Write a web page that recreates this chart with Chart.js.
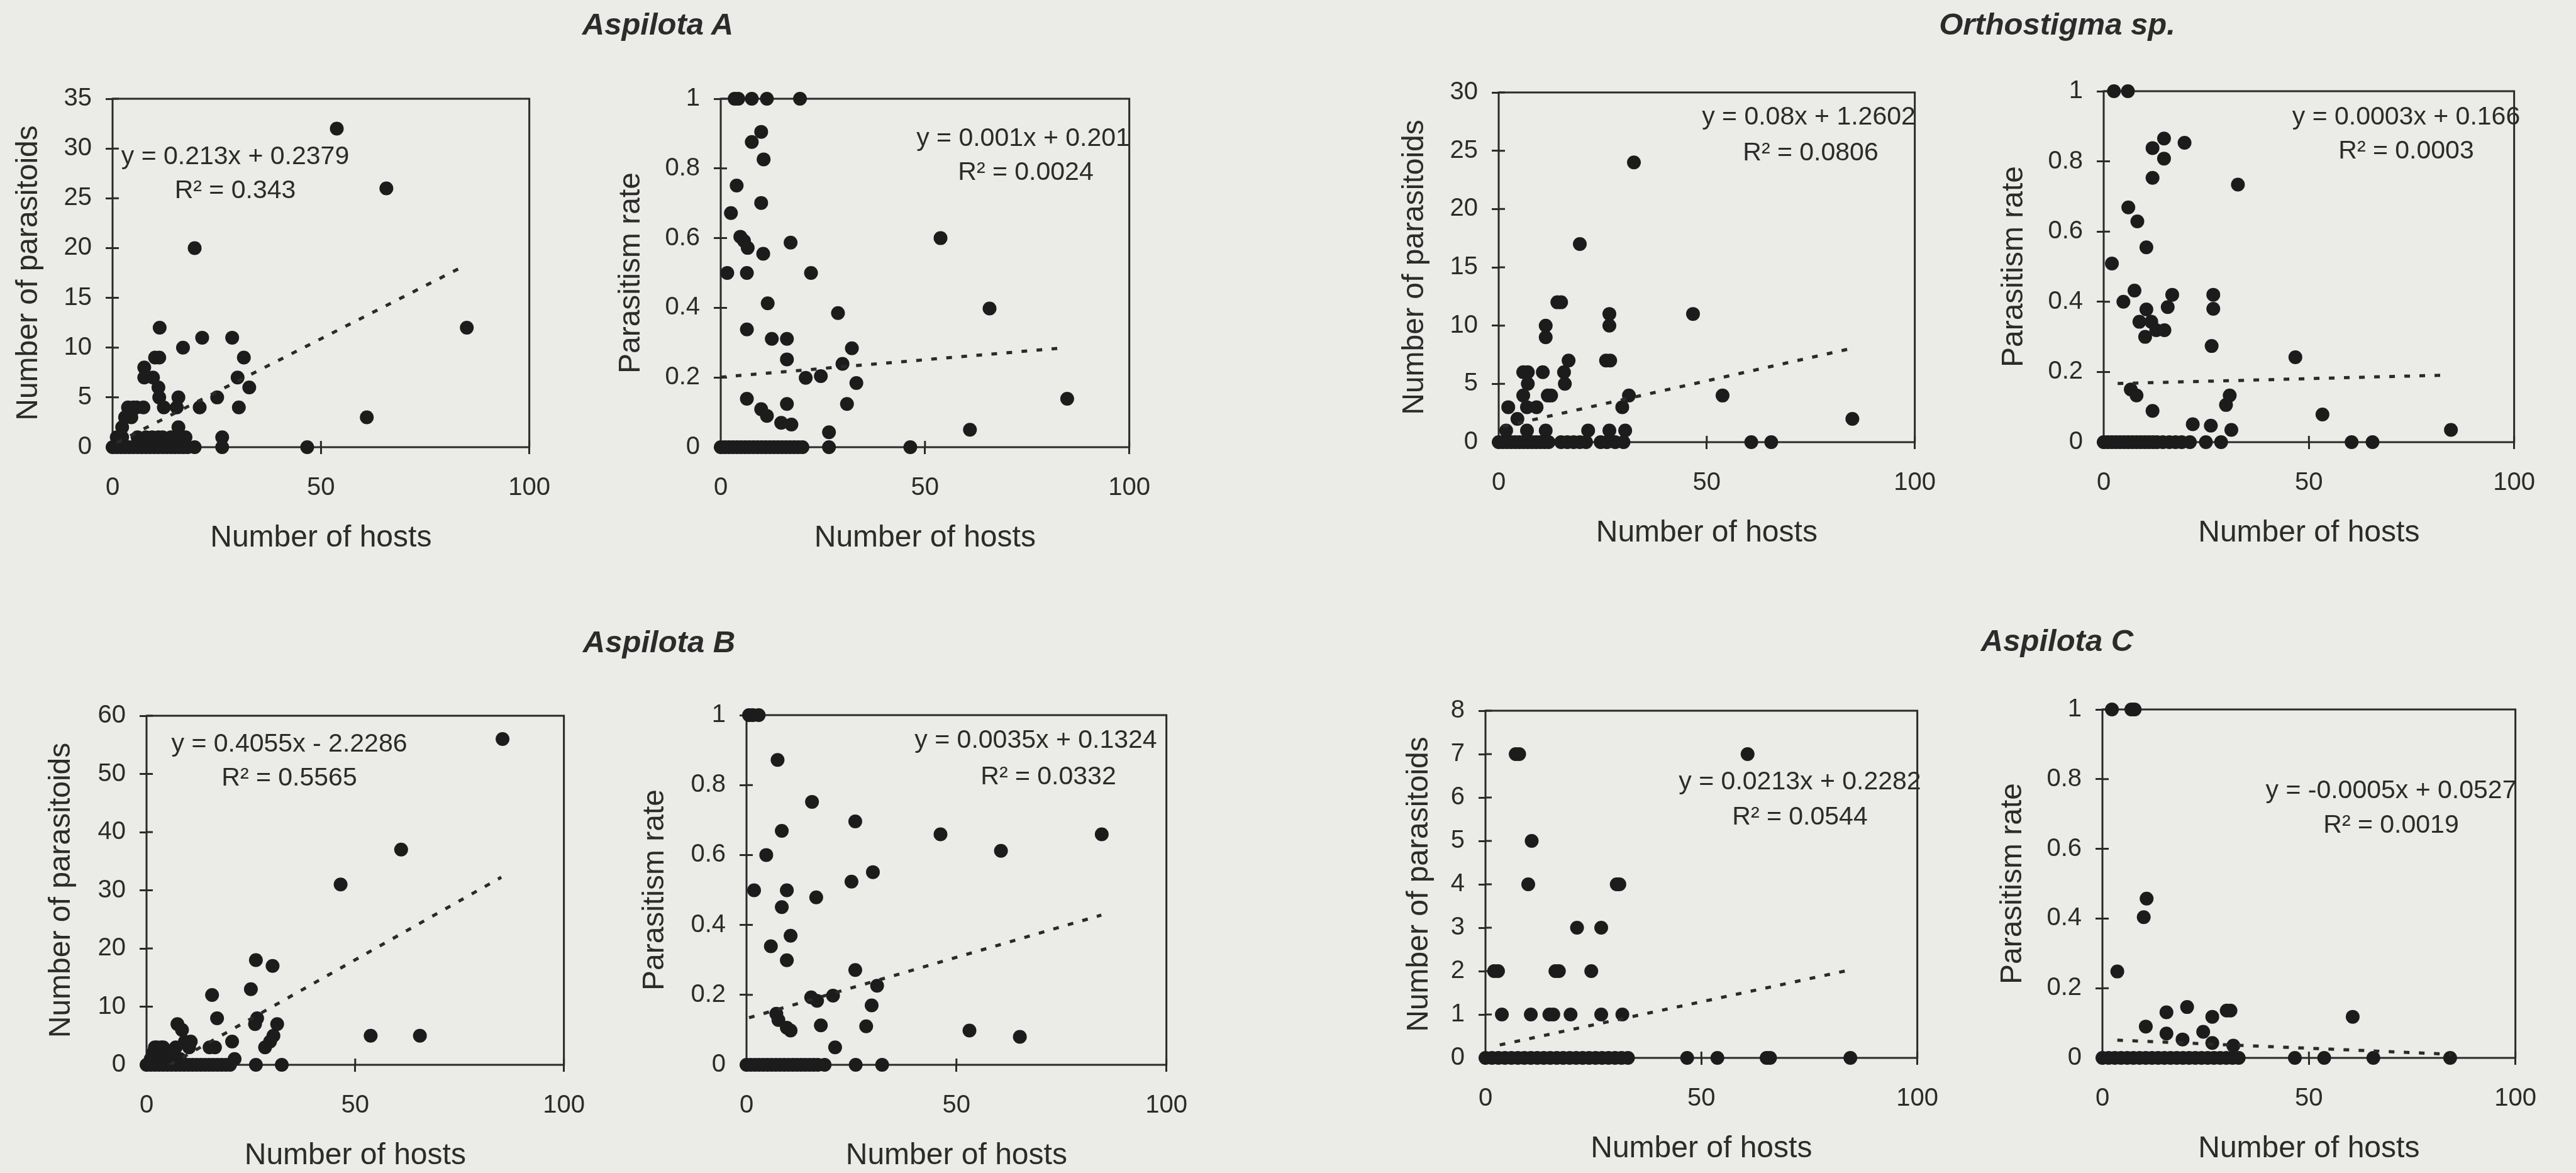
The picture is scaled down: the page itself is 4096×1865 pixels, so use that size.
<!DOCTYPE html>
<html>
<head>
<meta charset="utf-8">
<script src="https://cdn.jsdelivr.net/npm/chart.js@4.4.1/dist/chart.umd.min.js"></script>
<style>
  html, body { margin: 0; padding: 0; background: #ebebe7; }
  #page { position: relative; width: 4096px; height: 1865px; overflow: hidden;
          font-family: "Liberation Sans", Arial, sans-serif; color: #2b2b2b; }
  .panel { position: absolute; }
  .ttl { position: absolute; font-weight: bold; font-style: italic; font-size: 49px; line-height: 1;
         transform: translate(-50%, -50%); white-space: nowrap; }
  .eq { position: absolute; font-size: 41px; line-height: 1; transform: translate(-50%, -50%); white-space: nowrap; }
</style>
</head>
<body>
<div id="page"></div>
<script>
// ---- data ----
const xTicks = [0, 50, 100];

// Aspilota A
const aNumX = [53.8, 65.7, 19.7, 85, 61, 46.7, 11.3, 16.9, 21.5, 28.7, 31.5, 10.2, 11.2, 7.6, 7.6, 9.7, 11, 11.2, 12.3, 15.8,
  15.4, 20.9, 25.1, 30, 32.8, 30.3, 3.7, 4.5, 5.8, 7.4, 2.3, 15.8, 3, 5, 1, 2.3, 6, 8, 9.5, 11, 12, 14, 16, 17.5, 26.3, 1.5,
  0, 1, 2, 3, 4, 5, 6, 7, 8, 9, 10, 11, 12, 13, 14, 15, 16, 17, 18, 19.7, 26.3];
const aNumY = [32, 26, 20, 12, 3, 0, 12, 10, 11, 11, 9, 9, 9, 8, 7, 7, 6, 5, 4, 5,
  4, 4, 5, 7, 6, 4, 4, 3, 4, 4, 2, 2, 3, 4, 1, 1, 1, 1, 1, 1, 1, 1, 1, 1, 1, 0.5,
  0, 0, 0, 0, 0, 0, 0, 0, 0, 0, 0, 0, 0, 0, 0, 0, 0, 0, 0, 0, 0];
const aRateX = [3.4, 4.3, 7.6, 11.3, 19.4, 9.9, 7.6, 10.5, 3.9, 9.9, 2.5, 4.8, 5.7, 6.6, 17.1, 53.8, 10.4, 1.6, 6.4, 22.1,
  11.5, 65.8, 28.7, 6.4, 12.5, 16.2, 32.1, 16.2, 29.8, 20.8, 24.5, 33.2, 6.4, 16.2, 30.9, 84.8, 9.9, 11.3, 14.8, 17.3,
  61, 26.5, 26.5, 46.4, 0, 1, 2, 3, 4, 5, 6, 7, 8, 9, 10, 11, 12, 13, 14, 15, 16, 17, 18, 19, 20];
const aRateY = [1, 1, 1, 1, 1, 0.905, 0.876, 0.826, 0.751, 0.701, 0.672, 0.604, 0.592, 0.572, 0.587, 0.6, 0.555, 0.5, 0.5, 0.5,
  0.413, 0.398, 0.385, 0.338, 0.311, 0.311, 0.284, 0.252, 0.239, 0.199, 0.204, 0.184, 0.139, 0.124, 0.124, 0.139, 0.109, 0.09, 0.07, 0.065,
  0.05, 0.043, 0, 0, 0, 0, 0, 0, 0, 0, 0, 0, 0, 0, 0, 0, 0, 0, 0, 0, 0, 0, 0, 0, 0];

// Orthostigma sp.
const oNumX = [32.5, 19.5, 14.1, 15, 46.7, 11.3, 11.3, 26.6, 26.6, 25.8, 26.8, 16.8, 15.7, 15.9, 5.9, 7, 10.6, 7, 5.9, 11.8,
  12.6, 31.3, 53.8, 2.3, 6.8, 9.1, 29.7, 4.5, 85, 1.8, 6.8, 11.3, 21.5, 26.6, 30.4,
  0, 1, 2, 3, 4, 5, 6, 7, 8, 9, 10, 11, 12, 15, 16.5, 18, 19.5, 21, 24.5, 26, 28, 30, 60.7, 65.5];
const oNumY = [24, 17, 12, 12, 11, 10, 9, 11, 10, 7, 7, 7, 6, 5, 6, 6, 6, 5, 4, 4,
  4, 4, 4, 3, 3, 3, 3, 2, 2, 1, 1, 1, 1, 1, 1,
  0, 0, 0, 0, 0, 0, 0, 0, 0, 0, 0, 0, 0, 0, 0, 0, 0, 0, 0, 0, 0, 0, 0, 0];
const oRateX = [2.5, 5.9, 14.7, 11.9, 14.7, 19.7, 11.9, 32.7, 6, 8.2, 10.4, 2, 4.8, 7.5, 16.7, 15.6, 26.7, 26.7, 10.4, 8.7,
  11.6, 10.1, 12.8, 14.8, 26.3, 46.7, 6.6, 8, 11.9, 53.3, 30.7, 29.8, 21.7, 26.1, 31.1, 84.6,
  0, 1, 2, 3, 4, 5, 6, 7, 8, 9, 10, 11, 12, 13, 14.4, 16, 17.5, 19, 21, 24.9, 28.6, 60.4, 65.5];
const oRateY = [1, 1, 0.865, 0.838, 0.808, 0.853, 0.753, 0.734, 0.669, 0.629, 0.555, 0.509, 0.4, 0.432, 0.42, 0.385, 0.42, 0.38, 0.378, 0.343,
  0.343, 0.3, 0.319, 0.319, 0.274, 0.242, 0.15, 0.133, 0.089, 0.079, 0.133, 0.106, 0.051, 0.047, 0.035, 0.035,
  0, 0, 0, 0, 0, 0, 0, 0, 0, 0, 0, 0, 0, 0, 0, 0, 0, 0, 0, 0, 0, 0, 0];

// Aspilota B
const bNumX = [85.3, 61, 46.5, 26.2, 30.2, 25, 15.7, 16.9, 26, 26.5, 31.3, 30.4, 29.6, 28.4, 53.7, 65.5, 7.4, 8.5, 9.2, 10.6,
  10.2, 20.5, 15.1, 16.4, 1, 1.5, 2, 2.5, 3, 3.5, 4, 4.5, 5, 5.5, 6, 7, 8, 2, 3, 21.1,
  0, 1, 2, 3, 4, 5, 6, 7, 8, 9, 10, 11, 12, 13, 14, 15, 16, 17, 18, 19, 20, 26.2, 32.4];
const bNumY = [56, 37, 31, 18, 17, 13, 12, 8, 7, 8, 7, 5, 4, 3, 5, 5, 7, 6, 4, 4,
  3, 4, 3, 3, 1, 2, 3, 3, 2, 3, 3, 2, 2, 1, 2, 3, 1, 1, 1, 1,
  0, 0, 0, 0, 0, 0, 0, 0, 0, 0, 0, 0, 0, 0, 0, 0, 0, 0, 0, 0, 0, 0, 0];
const bRateX = [0.6, 1.5, 2.9, 7.4, 15.6, 25.9, 8.4, 46.2, 84.6, 4.7, 60.6, 30.1, 25, 1.8, 9.6, 8.4, 16.6, 10.5, 5.8, 9.6,
  25.9, 31.1, 15.4, 16.8, 20.6, 29.8, 7.1, 7.6, 17.7, 9.6, 10.5, 28.5, 53.1, 65.1, 21.1, 26, 32.3,
  0, 1, 2, 3, 4, 5, 6, 7, 8, 9, 10, 11, 12, 13, 14, 15, 16, 17, 18.6];
const bRateY = [1, 1, 1, 0.872, 0.752, 0.696, 0.669, 0.659, 0.659, 0.6, 0.612, 0.551, 0.524, 0.499, 0.499, 0.451, 0.479, 0.369, 0.339, 0.299,
  0.271, 0.226, 0.193, 0.183, 0.198, 0.17, 0.146, 0.128, 0.113, 0.106, 0.098, 0.11, 0.098, 0.08, 0.05, 0, 0,
  0, 0, 0, 0, 0, 0, 0, 0, 0, 0, 0, 0, 0, 0, 0, 0, 0, 0, 0];

// Aspilota C
const cNumX = [7, 7.8, 60.7, 10.7, 9.9, 30.4, 31, 21.2, 26.8, 2, 2.9, 16.2, 17, 24.5, 3.8, 10.5, 14.8, 15.7, 19.7, 26.8, 31.7,
  0, 1.5, 3, 4.5, 6, 7.5, 9, 10.5, 12, 13.5, 15, 16.5, 18, 19.5, 21, 22.5, 24, 25.5, 27, 28.5, 30, 31.5, 33,
  46.7, 53.7, 65.1, 65.9, 84.5];
const cNumY = [7, 7, 7, 5, 4, 4, 4, 3, 3, 2, 2, 2, 2, 2, 1, 1, 1, 1, 1, 1, 1,
  0, 0, 0, 0, 0, 0, 0, 0, 0, 0, 0, 0, 0, 0, 0, 0, 0, 0, 0, 0, 0, 0, 0,
  0, 0, 0, 0, 0];
const cRateX = [2.3, 7, 7.8, 10.7, 10, 3.6, 20.5, 15.5, 30.1, 31, 26.6, 60.6, 10.5, 15.5, 24.4, 19.4, 26.6, 31.7,
  0, 1.5, 3, 4.5, 6, 7.5, 9, 10.5, 12, 13.5, 15, 16.5, 18, 19.5, 21, 22.5, 24, 25.5, 27, 28.5, 30, 31.5, 33,
  46.6, 53.7, 65.6, 84.2];
const cRateY = [1, 1, 1, 0.457, 0.404, 0.248, 0.146, 0.131, 0.136, 0.136, 0.118, 0.118, 0.09, 0.07, 0.075, 0.053, 0.043, 0.035,
  0, 0, 0, 0, 0, 0, 0, 0, 0, 0, 0, 0, 0, 0, 0, 0, 0, 0, 0, 0, 0, 0, 0,
  0, 0, 0, 0];

// per panel: A num, A rate, O num, O rate, B num, B rate, C num, C rate
const yTitles = ['Number of parasitoids', 'Parasitism rate', 'Number of parasitoids', 'Parasitism rate',
  'Number of parasitoids', 'Parasitism rate', 'Number of parasitoids', 'Parasitism rate'];
const yMax = [35, 1, 30, 1, 60, 1, 8, 1];
const yStep = [5, 0.2, 5, 0.2, 10, 0.2, 1, 0.2];
const slope = [0.213, 0.001, 0.08, 0.0003, 0.4055, 0.0035, 0.0213, -0.0005];
const intercept = [0.2379, 0.201, 1.2602, 0.166, -2.2286, 0.1324, 0.2282, 0.0527];
const trendFrom = [1, 0, 1, 3.4, 5.5, 0.6, 3.3, 3.6];
const trendTo = [84.5, 84, 84, 83, 85, 84.5, 84, 84.5];
const eqText = ['y = 0.213x + 0.2379', 'y = 0.001x + 0.201', 'y = 0.08x + 1.2602', 'y = 0.0003x + 0.166',
  'y = 0.4055x - 2.2286', 'y = 0.0035x + 0.1324', 'y = 0.0213x + 0.2282', 'y = -0.0005x + 0.0527'];
const r2Text = ['R\u00B2 = 0.343', 'R\u00B2 = 0.0024', 'R\u00B2 = 0.0806', 'R\u00B2 = 0.0003',
  'R\u00B2 = 0.5565', 'R\u00B2 = 0.0332', 'R\u00B2 = 0.0544', 'R\u00B2 = 0.0019'];
const speciesTitles = ['Aspilota A', 'Orthostigma sp.', 'Aspilota B', 'Aspilota C'];

const seriesX = [aNumX, aRateX, oNumX, oRateX, bNumX, bRateX, cNumX, cRateX];
const seriesY = [aNumY, aRateY, oNumY, oRateY, bNumY, bRateY, cNumY, cRateY];

// ---- layout (page px) ----
// plot box: left, top, right, bottom, width of y axis strip
const boxes = [
  [179, 141, 860, 711, 157],
  [1146, 141, 1814, 711, 166],
  [2383, 131, 3063, 703, 157],
  [3345, 129, 4016, 703, 166],
  [233, 1122, 915, 1693, 159],
  [1187, 1121, 1873, 1693, 169],
  [2362, 1114, 3067, 1682, 129],
  [3343, 1112, 4018, 1682, 166]
];
const eqPos = [[374, 247, 374, 301], [1627, 218, 1631, 272], [2876, 184, 2879, 241], [3826, 184, 3826, 238],
  [460, 1181, 460, 1235], [1647, 1175, 1667, 1233], [2862, 1241, 2862, 1297], [3802, 1255, 3802, 1310]];
const titlePos = [[1046, 38], [3271, 38], [1048, 1020], [3271, 1018]];

const FONT = '"Liberation Sans", Arial, sans-serif';
const INK = '#2b2b2b';
const LINE = '#2a2a2a';
const DOT = '#1c1c1c';
const TICK = 11;
const page = document.getElementById('page');

const frame = {
  id: 'frame',
  beforeDatasetsDraw(chart) {
    const { ctx, chartArea: a, scales } = chart;
    ctx.save();
    ctx.strokeStyle = LINE;
    ctx.lineWidth = 3;
    ctx.strokeRect(a.left, a.top, a.right - a.left, a.bottom - a.top);
    ctx.beginPath();
    scales.y.ticks.forEach(t => {
      const py = scales.y.getPixelForValue(t.value);
      ctx.moveTo(a.left, py); ctx.lineTo(a.left + TICK - 1, py);
    });
    scales.x.ticks.forEach(t => {
      const px = scales.x.getPixelForValue(t.value);
      ctx.moveTo(px, a.bottom); ctx.lineTo(px, a.bottom - TICK + 1);
    });
    ctx.stroke();
    ctx.restore();
  }
};

function addText(cls, text, x, y) {
  const d = document.createElement('div');
  d.className = cls;
  d.textContent = text;
  d.style.left = x + 'px';
  d.style.top = y + 'px';
  page.appendChild(d);
}

function makePanel(i) {
  const [L, T, R, B, wy] = boxes[i];
  const padTop = 30, padRight = 45, xH = 169;
  const w = wy + (R - L) + padRight;
  const h = padTop + (B - T) + xH;
  const wrap = document.createElement('div');
  wrap.className = 'panel';
  wrap.style.left = (L - wy) + 'px';
  wrap.style.top = (T - padTop) + 'px';
  const cv = document.createElement('canvas');
  cv.width = w; cv.height = h;
  cv.style.width = w + 'px'; cv.style.height = h + 'px';
  wrap.appendChild(cv);
  page.appendChild(wrap);

  const xs = seriesX[i], ys = seriesY[i];
  const points = xs.map((x, k) => ({ x: x, y: ys[k] }));
  const trend = [trendFrom[i], trendTo[i]].map(x => ({ x: x, y: slope[i] * x + intercept[i] }));

  new Chart(cv, {
    type: 'scatter',
    data: {
      datasets: [
        { data: points, pointRadius: 11, pointHoverRadius: 11, pointBackgroundColor: DOT,
          pointBorderWidth: 0, clip: false, order: 1 },
        { data: trend, showLine: true, borderColor: LINE, borderWidth: 5, borderDash: [9, 15],
          pointRadius: 0, fill: false, clip: 0, order: 0 }
      ]
    },
    options: {
      responsive: false,
      animation: false,
      events: [],
      layout: { padding: { top: padTop, right: padRight, left: 0, bottom: 0 } },
      plugins: { legend: { display: false }, tooltip: { enabled: false } },
      scales: {
        x: {
          type: 'linear', min: 0, max: 100,
          afterBuildTicks: s => { s.ticks = xTicks.map(v => ({ value: v })); },
          ticks: { font: { family: FONT, size: 40, lineHeight: 1.2 }, color: INK, padding: 30, maxRotation: 0 },
          grid: { drawOnChartArea: false, drawTicks: true, tickLength: TICK, color: LINE, lineWidth: 3 },
          border: { display: false },
          title: { display: true, text: 'Number of hosts', color: INK, padding: 0,
                   font: { family: FONT, size: 48, lineHeight: 1 } },
          afterFit: s => { s.height = xH; }
        },
        y: {
          type: 'linear', min: 0, max: yMax[i],
          ticks: { stepSize: yStep[i], font: { family: FONT, size: 40 }, color: INK, padding: 22,
                   callback: v => String(+v.toFixed(1)) },
          grid: { drawOnChartArea: false, drawTicks: true, tickLength: TICK, color: LINE, lineWidth: 3 },
          border: { display: false },
          title: { display: true, text: yTitles[i], color: INK, padding: 0,
                   font: { family: FONT, size: 48, lineHeight: 1 } },
          afterFit: s => { s.width = wy; }
        }
      }
    },
    plugins: [frame]
  });

  const p = eqPos[i];
  addText('eq', eqText[i], p[0], p[1]);
  addText('eq', r2Text[i], p[2], p[3]);
}

for (let i = 0; i < boxes.length; i++) makePanel(i);
speciesTitles.forEach((t, k) => addText('ttl', t, titlePos[k][0], titlePos[k][1]));
</script>
</body>
</html>
